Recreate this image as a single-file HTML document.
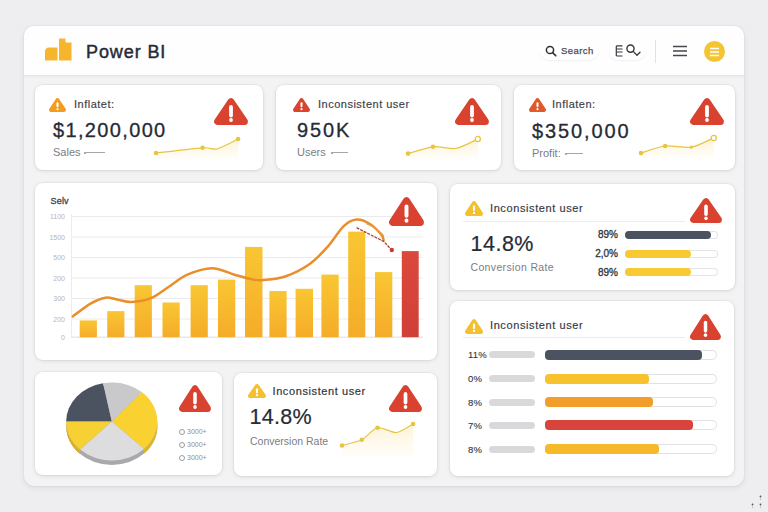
<!DOCTYPE html>
<html><head><meta charset="utf-8">
<style>
*{box-sizing:border-box;margin:0;padding:0}
html,body{width:768px;height:512px;overflow:hidden;background:#eeeef0;font-family:"Liberation Sans",sans-serif;position:relative}
.abs{position:absolute}
.main{position:absolute;left:24px;top:26px;width:720px;height:460px;border-radius:10px;background:#f3f3f4;box-shadow:0 0 2px rgba(0,0,0,0.10),0 2px 6px rgba(0,0,0,0.07);overflow:hidden}
.hdr{position:absolute;left:0;top:0;width:720px;height:50px;background:#fefefe;border-bottom:1px solid #e6e6e8;box-shadow:0 1px 2px rgba(0,0,0,0.04)}
.card{position:absolute;background:#fff;border-radius:8px;box-shadow:0 0 0 1px rgba(0,0,0,0.03),0 1px 4px rgba(0,0,0,0.10)}
.t{position:absolute;white-space:nowrap;line-height:1}
svg{position:absolute;overflow:visible}
</style></head><body>
<div class="main"><div class="hdr"></div></div>

<svg style="left:44px;top:38px" width="28" height="24" viewBox="0 0 28 24"><path d="M1 22.5 L1 14 Q1 9.5 5 9.5 L13.5 9.5 L13.5 22.5 Z" fill="#f5b52c"/><path d="M15 22.5 L15 0.5 L21.5 0.5 L21.5 4.5 L27.5 4.5 L27.5 22.5 Z" fill="#f5b52c"/></svg>
<div class="t" style="left:86px;top:42.5px;font-size:18px;color:#262b36;font-weight:400;-webkit-text-stroke:0.45px #262b36;letter-spacing:0.9px;">Power BI</div>
<div class="abs" style="left:540px;top:42px;width:58px;height:18px;border-radius:9px;background:#fff;box-shadow:0 1px 2px rgba(0,0,0,0.06)"></div>
<svg style="left:545px;top:45px" width="12" height="12" viewBox="0 0 12 12"><circle cx="5" cy="5" r="3.6" fill="none" stroke="#2d3038" stroke-width="1.5"/><path d="M7.6 7.6 L10.8 10.8" stroke="#2d3038" stroke-width="1.6" stroke-linecap="round"/></svg>
<div class="t" style="left:561px;top:46.3px;font-size:9.5px;color:#4a4d54;font-weight:400;-webkit-text-stroke:0.25px #4a4d54;letter-spacing:0.45px;">Search</div>
<div class="abs" style="left:609px;top:42px;width:36px;height:18px;border-radius:9px;background:#fff;box-shadow:0 1px 2px rgba(0,0,0,0.06)"></div>
<svg style="left:615px;top:44px" width="28" height="14" viewBox="0 0 28 14"><path d="M1.3 2.2 L1.3 11.8 M1.3 2.2 Q1.3 1.8 2.5 1.8 L7.5 1.8 M2 5 L7.5 5 M2 8 L7.5 8 M1.3 11.8 Q1.3 12 2.5 12 L7.5 12" stroke="#34373e" stroke-width="1.2" fill="none"/><circle cx="15.5" cy="4.6" r="3.6" fill="none" stroke="#34373e" stroke-width="1.4"/><path d="M18.2 7.4 L22 11.2 L25 8.2" stroke="#34373e" stroke-width="1.3" fill="none" stroke-linecap="round" stroke-linejoin="round"/></svg>
<div class="abs" style="left:655px;top:40px;width:1px;height:23px;background:#e2e2e4"></div>
<svg style="left:672px;top:45px" width="16" height="12" viewBox="0 0 16 12"><path d="M1 1.5 H15 M1 6 H15 M1 10.5 H15" stroke="#44474e" stroke-width="1.4"/></svg>
<div class="abs" style="left:704px;top:41px;width:21px;height:21px;border-radius:50%;background:#f5c431"></div>
<svg style="left:709px;top:47px" width="11" height="10" viewBox="0 0 11 10"><path d="M1 1.5 H10 M1 5 H10 M1 8.5 H10" stroke="#fff" stroke-width="1.3"/></svg>
<div class="card" style="left:35px;top:85px;width:228px;height:85px"></div>
<svg style="left:49px;top:98px" width="17" height="14" viewBox="0 0 34 27" preserveAspectRatio="none"><polygon points="17,4 4,23 30,23" fill="#f39c1e" stroke="#f39c1e" stroke-width="8" stroke-linejoin="round"/><rect x="15" y="8" width="4" height="10" rx="2" fill="#fff"/><circle cx="17" cy="21.5" r="2.1" fill="#fff"/></svg>
<div class="t" style="left:74px;top:99px;font-size:11px;color:#3a3e47;font-weight:400;-webkit-text-stroke:0.15px #3a3e47;letter-spacing:0.5px;">Inflatet:</div>
<svg style="left:214px;top:98px" width="34" height="27" viewBox="0 0 34 27" preserveAspectRatio="none"><polygon points="17,3.6 3.6,23.4 30.4,23.4" fill="#d8422f" stroke="#d8422f" stroke-width="7" stroke-linejoin="round"/><rect x="15.1" y="7" width="3.8" height="12.4" rx="1.9" fill="#fff"/><circle cx="17" cy="22" r="1.9" fill="#fff"/></svg>
<div class="t" style="left:53px;top:120px;font-size:20px;color:#262b36;font-weight:400;-webkit-text-stroke:0.3px #262b36;letter-spacing:1.35px;">$1,200,000</div>
<div class="t" style="left:53px;top:147px;font-size:11px;color:#7b7d82;font-weight:400;letter-spacing:0px;">Sales</div>
<div class="abs" style="left:86px;top:152px;width:19px;height:1px;background:#a4a6aa"></div>
<div class="abs" style="left:84px;top:151.5px;width:2px;height:2px;border-radius:1px;background:#8a8c90"></div>
<svg style="left:151.8px;top:134.6px" width="90.1" height="23.4" viewBox="0 0 90.1 23.4"><defs><linearGradient id="sg1" x1="0" y1="0" x2="0" y2="1"><stop offset="0" stop-color="#fbe6a8" stop-opacity="0.5"/><stop offset="1" stop-color="#fdf4da" stop-opacity="0.2"/></linearGradient></defs><path d="M4.0 18.0 C10.2 17.3 42.4 13.4 50.6 12.8 C58.8 12.2 60.5 15.0 65.2 13.8 C69.9 12.6 83.3 5.3 86.1 4.0 L86.1 23.4 L4.0 23.4 Z" fill="url(#sg1)"/><path d="M4.0 18.0 C10.2 17.3 42.4 13.4 50.6 12.8 C58.8 12.2 60.5 15.0 65.2 13.8 C69.9 12.6 83.3 5.3 86.1 4.0" fill="none" stroke="#e9c443" stroke-width="1.2" stroke-linejoin="round"/><circle cx="4.0" cy="18.0" r="2.3" fill="#e9c443"/><circle cx="50.6" cy="12.8" r="2.3" fill="#e9c443"/><circle cx="86.1" cy="4.0" r="2.3" fill="#e9c443"/></svg>
<div class="card" style="left:276px;top:85px;width:225px;height:85px"></div>
<svg style="left:293px;top:98px" width="17" height="14" viewBox="0 0 34 27" preserveAspectRatio="none"><polygon points="17,4 4,23 30,23" fill="#d9442f" stroke="#d9442f" stroke-width="8" stroke-linejoin="round"/><rect x="15" y="8" width="4" height="10" rx="2" fill="#fff"/><circle cx="17" cy="21.5" r="2.1" fill="#fff"/></svg>
<div class="t" style="left:318px;top:99px;font-size:11px;color:#3a3e47;font-weight:400;-webkit-text-stroke:0.15px #3a3e47;letter-spacing:0.5px;">Inconsistent user</div>
<svg style="left:455px;top:98px" width="34" height="27" viewBox="0 0 34 27" preserveAspectRatio="none"><polygon points="17,3.6 3.6,23.4 30.4,23.4" fill="#d8422f" stroke="#d8422f" stroke-width="7" stroke-linejoin="round"/><rect x="15.1" y="7" width="3.8" height="12.4" rx="1.9" fill="#fff"/><circle cx="17" cy="22" r="1.9" fill="#fff"/></svg>
<div class="t" style="left:297px;top:120px;font-size:20px;color:#262b36;font-weight:400;-webkit-text-stroke:0.3px #262b36;letter-spacing:1.9px;">950K</div>
<div class="t" style="left:297px;top:147px;font-size:11px;color:#7b7d82;font-weight:400;letter-spacing:0px;">Users</div>
<div class="abs" style="left:333px;top:152px;width:15px;height:1px;background:#a4a6aa"></div>
<div class="abs" style="left:331px;top:151.5px;width:2px;height:2px;border-radius:1px;background:#8a8c90"></div>
<svg style="left:404.2px;top:134.8px" width="77.8" height="23.2" viewBox="0 0 77.8 23.2"><defs><linearGradient id="sg2" x1="0" y1="0" x2="0" y2="1"><stop offset="0" stop-color="#fbe6a8" stop-opacity="0.5"/><stop offset="1" stop-color="#fdf4da" stop-opacity="0.2"/></linearGradient></defs><path d="M4.0 18.6 C7.3 17.7 22.6 12.5 29.0 11.8 C35.4 11.1 46.0 14.4 52.0 13.4 C58.0 12.4 70.9 5.3 73.8 4.0 L73.8 23.2 L4.0 23.2 Z" fill="url(#sg2)"/><path d="M4.0 18.6 C7.3 17.7 22.6 12.5 29.0 11.8 C35.4 11.1 46.0 14.4 52.0 13.4 C58.0 12.4 70.9 5.3 73.8 4.0" fill="none" stroke="#e9c443" stroke-width="1.2" stroke-linejoin="round"/><circle cx="4.0" cy="18.6" r="2.3" fill="#e9c443"/><circle cx="29.0" cy="11.8" r="2.3" fill="#e9c443"/><circle cx="73.8" cy="4.0" r="2.5999999999999996" fill="#fff" stroke="#e9c443" stroke-width="1.3"/></svg>
<div class="card" style="left:514px;top:85px;width:221px;height:85px"></div>
<svg style="left:529px;top:98px" width="17" height="14" viewBox="0 0 34 27" preserveAspectRatio="none"><polygon points="17,4 4,23 30,23" fill="#de5a2a" stroke="#de5a2a" stroke-width="8" stroke-linejoin="round"/><rect x="15" y="8" width="4" height="10" rx="2" fill="#fff"/><circle cx="17" cy="21.5" r="2.1" fill="#fff"/></svg>
<div class="t" style="left:552px;top:99px;font-size:11px;color:#3a3e47;font-weight:400;-webkit-text-stroke:0.15px #3a3e47;letter-spacing:0.5px;">Inflaten:</div>
<svg style="left:690px;top:98px" width="34" height="27" viewBox="0 0 34 27" preserveAspectRatio="none"><polygon points="17,3.6 3.6,23.4 30.4,23.4" fill="#d8422f" stroke="#d8422f" stroke-width="7" stroke-linejoin="round"/><rect x="15.1" y="7" width="3.8" height="12.4" rx="1.9" fill="#fff"/><circle cx="17" cy="22" r="1.9" fill="#fff"/></svg>
<div class="t" style="left:532px;top:121px;font-size:20px;color:#262b36;font-weight:400;-webkit-text-stroke:0.3px #262b36;letter-spacing:1.9px;">$350,000</div>
<div class="t" style="left:532px;top:148px;font-size:11px;color:#7b7d82;font-weight:400;letter-spacing:0px;">Profit:</div>
<div class="abs" style="left:567px;top:153px;width:16px;height:1px;background:#a4a6aa"></div>
<div class="abs" style="left:565px;top:152.5px;width:2px;height:2px;border-radius:1px;background:#8a8c90"></div>
<svg style="left:637.1px;top:134.4px" width="80.7" height="23.6" viewBox="0 0 80.7 23.6"><defs><linearGradient id="sg3" x1="0" y1="0" x2="0" y2="1"><stop offset="0" stop-color="#fbe6a8" stop-opacity="0.5"/><stop offset="1" stop-color="#fdf4da" stop-opacity="0.2"/></linearGradient></defs><path d="M4.0 19.0 C7.2 18.1 21.4 12.8 28.1 12.0 C34.8 11.2 47.9 14.3 54.4 13.2 C60.9 12.1 73.7 5.2 76.7 4.0 L76.7 23.6 L4.0 23.6 Z" fill="url(#sg3)"/><path d="M4.0 19.0 C7.2 18.1 21.4 12.8 28.1 12.0 C34.8 11.2 47.9 14.3 54.4 13.2 C60.9 12.1 73.7 5.2 76.7 4.0" fill="none" stroke="#e9c443" stroke-width="1.2" stroke-linejoin="round"/><circle cx="4.0" cy="19.0" r="2.3" fill="#e9c443"/><circle cx="28.1" cy="12.0" r="2.3" fill="#e9c443"/><circle cx="54.4" cy="13.2" r="1.6" fill="#e9c443"/><circle cx="76.7" cy="4.0" r="2.5999999999999996" fill="#fff" stroke="#e9c443" stroke-width="1.3"/></svg>
<div class="card" style="left:35px;top:183px;width:402px;height:177px"></div>
<div class="t" style="left:50.5px;top:196.5px;font-size:9px;color:#3b3f48;font-weight:400;-webkit-text-stroke:0.3px #3b3f48;letter-spacing:0.2px;">Selv</div>
<svg style="left:0;top:0" width="768" height="512" viewBox="0 0 768 512">
<defs><linearGradient id="by" x1="0" y1="0" x2="0" y2="1"><stop offset="0" stop-color="#f9c633"/><stop offset="1" stop-color="#f5ac29"/></linearGradient>
<linearGradient id="br" x1="0" y1="0" x2="0" y2="1"><stop offset="0" stop-color="#dc483c"/><stop offset="1" stop-color="#d04037"/></linearGradient></defs>
<line x1="71" y1="216.5" x2="423" y2="216.5" stroke="#ebebed" stroke-width="1"/>
<line x1="71" y1="237" x2="423" y2="237" stroke="#ebebed" stroke-width="1"/>
<line x1="71" y1="257.5" x2="423" y2="257.5" stroke="#ebebed" stroke-width="1"/>
<line x1="71" y1="278" x2="423" y2="278" stroke="#ebebed" stroke-width="1"/>
<line x1="71" y1="298.5" x2="423" y2="298.5" stroke="#ebebed" stroke-width="1"/>
<line x1="71" y1="319" x2="423" y2="319" stroke="#ebebed" stroke-width="1"/>
<line x1="71" y1="337.2" x2="423" y2="337.2" stroke="#dcdcde" stroke-width="1"/>
<line x1="71.5" y1="214" x2="71.5" y2="337.2" stroke="#ececee" stroke-width="1"/>
<rect x="79.7" y="320.4" width="17.2" height="16.8" fill="url(#by)"/>
<rect x="107.2" y="311.1" width="17.2" height="26.1" fill="url(#by)"/>
<rect x="134.7" y="285.2" width="17.2" height="52.0" fill="url(#by)"/>
<rect x="162.5" y="302.5" width="17.2" height="34.7" fill="url(#by)"/>
<rect x="190.6" y="285.2" width="17.2" height="52.0" fill="url(#by)"/>
<rect x="218" y="279.6" width="17.3" height="57.6" fill="url(#by)"/>
<rect x="245" y="246.9" width="17.5" height="90.3" fill="url(#by)"/>
<rect x="269.4" y="291" width="17.2" height="46.2" fill="url(#by)"/>
<rect x="295.6" y="288.8" width="17.4" height="48.4" fill="url(#by)"/>
<rect x="321.4" y="274.6" width="17.3" height="62.6" fill="url(#by)"/>
<rect x="348.2" y="231.6" width="17.1" height="105.6" fill="url(#by)"/>
<rect x="375" y="272.1" width="17.3" height="65.1" fill="url(#by)"/>
<rect x="401.8" y="251.1" width="16.9" height="86.1" fill="url(#br)"/>
<path d="M72.8 316.4 C75.8 314.2 85.6 306.5 91.0 303.4 C96.4 300.3 101.1 298.3 105.4 297.7 C109.7 297.1 112.7 298.8 117.0 299.5 C121.3 300.2 125.7 302.2 131.4 302.0 C137.1 301.8 144.7 300.8 151.0 298.2 C157.3 295.6 163.1 290.4 169.2 286.5 C175.3 282.6 180.2 277.8 187.4 274.7 C194.6 271.6 204.3 268.2 212.1 268.2 C219.9 268.2 227.6 272.8 234.3 274.7 C241.0 276.6 247.6 278.5 252.5 279.4 C257.4 280.3 258.6 280.5 264.0 280.0 C269.4 279.5 277.8 279.0 285.2 276.5 C292.6 274.0 301.6 269.7 308.6 264.8 C315.6 259.9 321.5 253.6 327.3 247.2 C333.1 240.8 338.8 230.7 343.7 226.1 C348.6 221.5 352.3 219.9 356.6 219.5 C360.9 219.1 365.4 221.2 369.5 223.7 C373.6 226.2 378.8 231.6 381.2 234.3 C383.6 237.1 383.2 239.2 383.6 240.2" fill="none" stroke="#e88f2c" stroke-width="2.5" stroke-linecap="round"/>
<path d="M366 223.5 C374 227 380 231 384 236" fill="none" stroke="#eea050" stroke-width="1.2"/>
<path d="M356.6 227.7 L371.9 235.5 L383.6 241.3 L391.8 250" fill="none" stroke="#a8443c" stroke-width="1.3" stroke-dasharray="3 1"/>
<circle cx="391.8" cy="250" r="2.2" fill="#c63d35"/>
</svg>
<div class="t" style="left:45px;width:20px;text-align:right;top:213.0px;font-size:7px;color:#b3b5b9">1100</div>
<div class="t" style="left:45px;width:20px;text-align:right;top:233.5px;font-size:7px;color:#b3b5b9">1500</div>
<div class="t" style="left:45px;width:20px;text-align:right;top:254.0px;font-size:7px;color:#b3b5b9">500</div>
<div class="t" style="left:45px;width:20px;text-align:right;top:274.5px;font-size:7px;color:#b3b5b9">200</div>
<div class="t" style="left:45px;width:20px;text-align:right;top:295.0px;font-size:7px;color:#b3b5b9">300</div>
<div class="t" style="left:45px;width:20px;text-align:right;top:315.5px;font-size:7px;color:#b3b5b9">200</div>
<div class="t" style="left:45px;width:20px;text-align:right;top:333.7px;font-size:7px;color:#b3b5b9">0</div>
<svg style="left:389px;top:197px" width="35" height="29" viewBox="0 0 34 27" preserveAspectRatio="none"><polygon points="17,3.6 3.6,23.4 30.4,23.4" fill="#d8422f" stroke="#d8422f" stroke-width="7" stroke-linejoin="round"/><rect x="15.1" y="7" width="3.8" height="12.4" rx="1.9" fill="#fff"/><circle cx="17" cy="22" r="1.9" fill="#fff"/></svg>
<div class="card" style="left:450px;top:184px;width:285px;height:106px"></div>
<svg style="left:465px;top:201px" width="18" height="15" viewBox="0 0 34 27" preserveAspectRatio="none"><polygon points="17,4 4,23 30,23" fill="#f5c02e" stroke="#f5c02e" stroke-width="8" stroke-linejoin="round"/><rect x="15" y="8" width="4" height="10" rx="2" fill="#fff"/><circle cx="17" cy="21.5" r="2.1" fill="#fff"/></svg>
<div class="t" style="left:490px;top:202.5px;font-size:11px;color:#33373f;font-weight:400;-webkit-text-stroke:0.15px #33373f;letter-spacing:0.6px;">Inconsistent user</div>
<div class="abs" style="left:463px;top:221px;width:222px;height:1px;background:#ececee"></div>
<svg style="left:690px;top:198px" width="32" height="25" viewBox="0 0 34 27" preserveAspectRatio="none"><polygon points="17,3.6 3.6,23.4 30.4,23.4" fill="#d8422f" stroke="#d8422f" stroke-width="7" stroke-linejoin="round"/><rect x="15.1" y="7" width="3.8" height="12.4" rx="1.9" fill="#fff"/><circle cx="17" cy="22" r="1.9" fill="#fff"/></svg>
<div class="t" style="left:470.5px;top:234px;font-size:21.5px;color:#262b36;font-weight:400;-webkit-text-stroke:0.2px #262b36;letter-spacing:0.5px;">14.8%</div>
<div class="t" style="left:470.5px;top:262px;font-size:10.5px;color:#7b7d82;font-weight:400;letter-spacing:0.35px;">Conversion Rate</div>
<div class="t" style="left:575px;width:43px;text-align:right;top:230.39999999999998px;font-size:10px;color:#30343c;-webkit-text-stroke:0.3px #30343c">89%</div>
<div class="abs" style="left:625px;top:231.2px;width:93px;height:8px;border-radius:4px;background:#fff;box-shadow:inset 0 0 0 1px #e4e4e6"></div>
<div class="abs" style="left:625px;top:231.2px;width:86.3px;height:8px;border-radius:4px;background:#4b5361"></div>
<div class="t" style="left:575px;width:43px;text-align:right;top:249.2px;font-size:10px;color:#30343c;-webkit-text-stroke:0.3px #30343c">2,0%</div>
<div class="abs" style="left:625px;top:250px;width:93px;height:8px;border-radius:4px;background:#fff;box-shadow:inset 0 0 0 1px #e4e4e6"></div>
<div class="abs" style="left:625px;top:250px;width:66.0px;height:8px;border-radius:4px;background:#f7ca33"></div>
<div class="t" style="left:575px;width:43px;text-align:right;top:267.5px;font-size:10px;color:#30343c;-webkit-text-stroke:0.3px #30343c">89%</div>
<div class="abs" style="left:625px;top:268.3px;width:93px;height:8px;border-radius:4px;background:#fff;box-shadow:inset 0 0 0 1px #e4e4e6"></div>
<div class="abs" style="left:625px;top:268.3px;width:66.0px;height:8px;border-radius:4px;background:#f7ca33"></div>
<div class="card" style="left:450px;top:301px;width:284px;height:175px"></div>
<svg style="left:465px;top:319px" width="18" height="15" viewBox="0 0 34 27" preserveAspectRatio="none"><polygon points="17,4 4,23 30,23" fill="#f5c02e" stroke="#f5c02e" stroke-width="8" stroke-linejoin="round"/><rect x="15" y="8" width="4" height="10" rx="2" fill="#fff"/><circle cx="17" cy="21.5" r="2.1" fill="#fff"/></svg>
<div class="t" style="left:490px;top:320px;font-size:11px;color:#33373f;font-weight:400;-webkit-text-stroke:0.15px #33373f;letter-spacing:0.6px;">Inconsistent user</div>
<div class="abs" style="left:463px;top:337px;width:222px;height:1px;background:#ececee"></div>
<svg style="left:690px;top:314px" width="31" height="26" viewBox="0 0 34 27" preserveAspectRatio="none"><polygon points="17,3.6 3.6,23.4 30.4,23.4" fill="#d8422f" stroke="#d8422f" stroke-width="7" stroke-linejoin="round"/><rect x="15.1" y="7" width="3.8" height="12.4" rx="1.9" fill="#fff"/><circle cx="17" cy="22" r="1.9" fill="#fff"/></svg>
<div class="t" style="left:468px;top:350.25px;font-size:9.5px;color:#30343c;-webkit-text-stroke:0.1px #30343c;letter-spacing:0.2px">11%</div>
<div class="abs" style="left:489px;top:351.25px;width:46px;height:7px;border-radius:3.5px;background:#d9d9db"></div>
<div class="abs" style="left:545px;top:349.75px;width:172px;height:10px;border-radius:5px;background:#fff;box-shadow:inset 0 0 0 1px #e2e2e4"></div>
<div class="abs" style="left:545px;top:349.75px;width:157.4px;height:10px;border-radius:4px;background:#4b5361"></div>
<div class="t" style="left:468px;top:374.1px;font-size:9.5px;color:#30343c;-webkit-text-stroke:0.1px #30343c;letter-spacing:0.2px">0%</div>
<div class="abs" style="left:489px;top:375.1px;width:46px;height:7px;border-radius:3.5px;background:#d9d9db"></div>
<div class="abs" style="left:545px;top:373.6px;width:172px;height:10px;border-radius:5px;background:#fff;box-shadow:inset 0 0 0 1px #e2e2e4"></div>
<div class="abs" style="left:545px;top:373.6px;width:104.0px;height:10px;border-radius:4px;background:#f8c12e"></div>
<div class="t" style="left:468px;top:397.5px;font-size:9.5px;color:#30343c;-webkit-text-stroke:0.1px #30343c;letter-spacing:0.2px">8%</div>
<div class="abs" style="left:489px;top:398.5px;width:46px;height:7px;border-radius:3.5px;background:#d9d9db"></div>
<div class="abs" style="left:545px;top:397px;width:172px;height:10px;border-radius:5px;background:#fff;box-shadow:inset 0 0 0 1px #e2e2e4"></div>
<div class="abs" style="left:545px;top:397px;width:107.8px;height:10px;border-radius:4px;background:#f19f2a"></div>
<div class="t" style="left:468px;top:420.9px;font-size:9.5px;color:#30343c;-webkit-text-stroke:0.1px #30343c;letter-spacing:0.2px">7%</div>
<div class="abs" style="left:489px;top:421.9px;width:46px;height:7px;border-radius:3.5px;background:#d9d9db"></div>
<div class="abs" style="left:545px;top:420.4px;width:172px;height:10px;border-radius:5px;background:#fff;box-shadow:inset 0 0 0 1px #e2e2e4"></div>
<div class="abs" style="left:545px;top:420.4px;width:148.0px;height:10px;border-radius:4px;background:#d8433b"></div>
<div class="t" style="left:468px;top:444.7px;font-size:9.5px;color:#30343c;-webkit-text-stroke:0.1px #30343c;letter-spacing:0.2px">8%</div>
<div class="abs" style="left:489px;top:445.7px;width:46px;height:7px;border-radius:3.5px;background:#d9d9db"></div>
<div class="abs" style="left:545px;top:444.2px;width:172px;height:10px;border-radius:5px;background:#fff;box-shadow:inset 0 0 0 1px #e2e2e4"></div>
<div class="abs" style="left:545px;top:444.2px;width:114.0px;height:10px;border-radius:4px;background:#f6b92b"></div>
<div class="card" style="left:35px;top:372px;width:187px;height:103px"></div>
<svg style="left:0;top:0" width="768" height="512" viewBox="0 0 768 512">
<ellipse cx="111.8" cy="426.0" rx="45.6" ry="39" fill="#a9a9ab"/>
<path d="M66.19999999999999 421.5 A45.6 39 0 0 0 80.1 449.6 L80.1 454.1 A45.6 39 0 0 1 66.19999999999999 426.0 Z" fill="#d9b229"/>
<path d="M157.4 421.5 A45.6 39 0 0 1 144.0 449.1 L144.0 453.6 A45.6 39 0 0 0 157.4 426.0 Z" fill="#dcb52c"/>
<path d="M111.8 421.5 L66.2 421.5 A45.6 39 0 0 1 103.1 383.2 Z" fill="#4b5260"/>
<path d="M111.8 421.5 L103.1 383.2 A45.6 39 0 0 1 141.7 392.1 Z" fill="#c9c9cb"/>
<path d="M111.8 421.5 L141.7 392.1 A45.6 39 0 0 1 144.0 449.1 Z" fill="#f9d232"/>
<path d="M111.8 421.5 L144.0 449.1 A45.6 39 0 0 1 80.1 449.6 Z" fill="#dddddf"/>
<path d="M111.8 421.5 L80.1 449.6 A45.6 39 0 0 1 66.2 421.5 Z" fill="#f7d033"/>
</svg>
<svg style="left:179px;top:385px" width="32" height="27" viewBox="0 0 34 27" preserveAspectRatio="none"><polygon points="17,3.6 3.6,23.4 30.4,23.4" fill="#d8422f" stroke="#d8422f" stroke-width="7" stroke-linejoin="round"/><rect x="15.1" y="7" width="3.8" height="12.4" rx="1.9" fill="#fff"/><circle cx="17" cy="22" r="1.9" fill="#fff"/></svg>
<div class="abs" style="left:179px;top:428.6px;width:6px;height:6px;border-radius:50%;border:1px solid #9a9ca0"></div>
<div class="t" style="left:187px;top:428.1px;font-size:7px;color:#8d8f94">3000+</div>
<div class="abs" style="left:179px;top:441.8px;width:6px;height:6px;border-radius:50%;border:1px solid #9a9ca0"></div>
<div class="t" style="left:187px;top:441.3px;font-size:7px;color:#8d8f94">3000+</div>
<div class="abs" style="left:179px;top:454.6px;width:6px;height:6px;border-radius:50%;border:1px solid #9a9ca0"></div>
<div class="t" style="left:187px;top:454.1px;font-size:7px;color:#8d8f94">3000+</div>
<div class="card" style="left:234px;top:373px;width:203px;height:103px"></div>
<svg style="left:248px;top:384px" width="18" height="14" viewBox="0 0 34 27" preserveAspectRatio="none"><polygon points="17,4 4,23 30,23" fill="#f5c02e" stroke="#f5c02e" stroke-width="8" stroke-linejoin="round"/><rect x="15" y="8" width="4" height="10" rx="2" fill="#fff"/><circle cx="17" cy="21.5" r="2.1" fill="#fff"/></svg>
<div class="t" style="left:272.5px;top:386px;font-size:11px;color:#33373f;font-weight:400;-webkit-text-stroke:0.2px #33373f;letter-spacing:0.6px;">Inconsistent user</div>
<svg style="left:389px;top:385px" width="33" height="27" viewBox="0 0 34 27" preserveAspectRatio="none"><polygon points="17,3.6 3.6,23.4 30.4,23.4" fill="#d8422f" stroke="#d8422f" stroke-width="7" stroke-linejoin="round"/><rect x="15.1" y="7" width="3.8" height="12.4" rx="1.9" fill="#fff"/><circle cx="17" cy="22" r="1.9" fill="#fff"/></svg>
<div class="t" style="left:249.5px;top:406.5px;font-size:21.5px;color:#262b36;font-weight:400;-webkit-text-stroke:0.2px #262b36;letter-spacing:0.3px;">14.8%</div>
<div class="t" style="left:250px;top:436px;font-size:10.5px;color:#7b7d82;font-weight:400;letter-spacing:0px;">Conversion Rate</div>
<svg style="left:337.9px;top:419.6px" width="79.1" height="35.4" viewBox="0 0 79.1 35.4"><defs><linearGradient id="sg4" x1="0" y1="0" x2="0" y2="1"><stop offset="0" stop-color="#fbe6a8" stop-opacity="0.5"/><stop offset="1" stop-color="#fdf4da" stop-opacity="0.2"/></linearGradient></defs><path d="M4.0 25.5 C6.6 24.7 19.1 22.2 23.8 19.8 C28.5 17.4 34.9 8.7 39.5 7.7 C44.1 6.7 53.7 13.1 58.4 12.6 C63.1 12.1 72.9 5.1 75.1 4.0 L75.1 35.4 L4.0 35.4 Z" fill="url(#sg4)"/><path d="M4.0 25.5 C6.6 24.7 19.1 22.2 23.8 19.8 C28.5 17.4 34.9 8.7 39.5 7.7 C44.1 6.7 53.7 13.1 58.4 12.6 C63.1 12.1 72.9 5.1 75.1 4.0" fill="none" stroke="#e6c540" stroke-width="1.2" stroke-linejoin="round"/><circle cx="4.0" cy="25.5" r="2.3" fill="#e6c540"/><circle cx="23.8" cy="19.8" r="2.3" fill="#e6c540"/><circle cx="39.5" cy="7.7" r="2.3" fill="#e6c540"/><circle cx="75.1" cy="4.0" r="2.3" fill="#e6c540"/></svg>
<svg style="left:749px;top:494px" width="16" height="14" viewBox="0 0 16 14"><circle cx="11.5" cy="2.5" r="0.9" fill="#555"/><circle cx="3.5" cy="10.5" r="0.9" fill="#555"/><circle cx="11.5" cy="10.5" r="0.9" fill="#555"/><circle cx="11.5" cy="5" r="0.6" fill="#999"/><circle cx="3.5" cy="13" r="0.6" fill="#999"/><circle cx="11.5" cy="13" r="0.6" fill="#999"/></svg>
</body></html>
